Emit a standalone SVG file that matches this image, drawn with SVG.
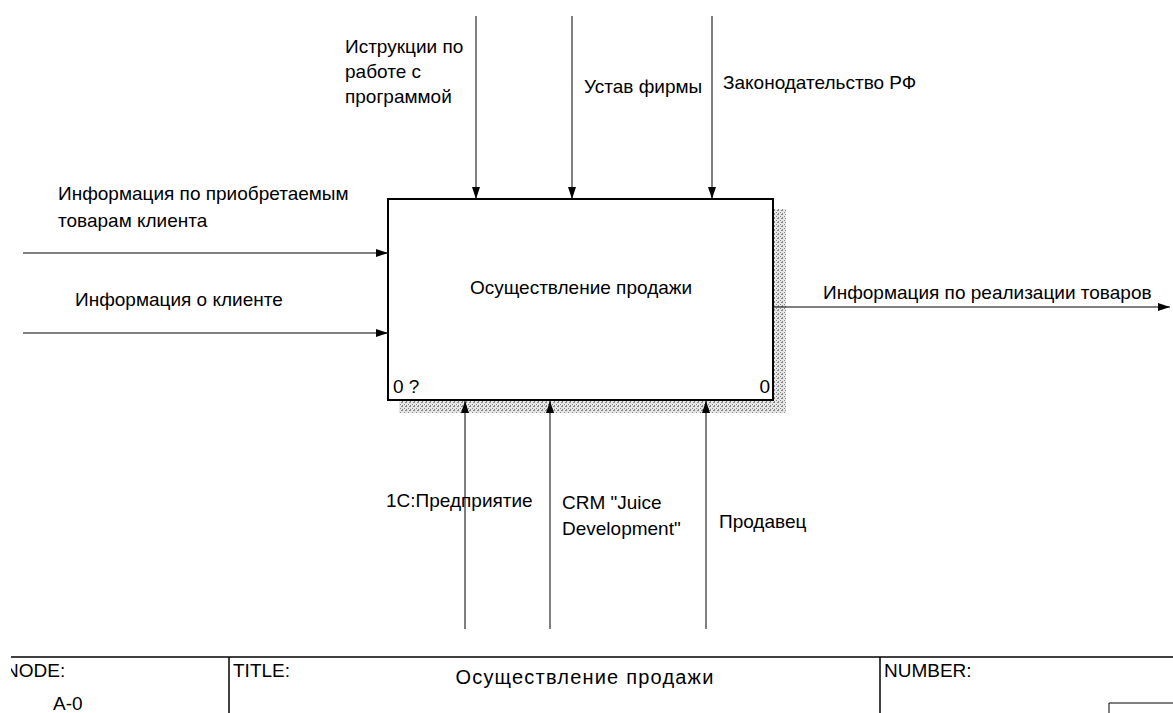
<svg xmlns="http://www.w3.org/2000/svg" width="1173" height="713" viewBox="0 0 1173 713">
  <style>
    text { font-family: "Liberation Sans", Arial, sans-serif; font-size: 19px; fill: #000; }
    .arrow { stroke: #000; stroke-width: 1; fill: none; marker-end: url(#head); }
    .frame { stroke: #000; stroke-width: 1.5; fill: none; }
  </style>
  <defs>
    <marker id="head" viewBox="0 0 12 8" refX="12" refY="4" markerWidth="12" markerHeight="8" markerUnits="userSpaceOnUse" orient="auto">
      <path d="M0,0 L12,4 L0,8 Z" fill="#000"/>
    </marker>
    <pattern id="hatch" width="4" height="4" patternUnits="userSpaceOnUse">
      <rect width="4" height="4" fill="#e6e6e6"/>
      <path d="M0,0 L1,1 M2,2 L3,3 M3,1 L1,3" stroke="#8a8a8a" stroke-width="1"/>
    </pattern>
    <clipPath id="sheet"><rect x="11" y="0" width="1162" height="713"/></clipPath>
  </defs>

  <!-- activity box with shadow -->
  <g id="node-A0">
    <rect x="774" y="209" width="12" height="204" fill="url(#hatch)"/>
    <rect x="399" y="401" width="387" height="12" fill="url(#hatch)"/>
    <rect x="388" y="199" width="385" height="201" fill="#fff" stroke="#000" stroke-width="2"/>
    <text x="581" y="294" text-anchor="middle">Осуществление продажи</text>
    <text x="393" y="393">0 ?</text>
    <text x="770" y="393" text-anchor="end">0</text>
  </g>

  <!-- connectors -->
  <g id="connectors">
    <!-- controls -->
    <line class="arrow" x1="476" y1="16" x2="476" y2="199"/>
    <line class="arrow" x1="572" y1="16" x2="572" y2="199"/>
    <line class="arrow" x1="712" y1="16" x2="712" y2="199"/>
    <!-- inputs -->
    <line class="arrow" x1="23" y1="253" x2="388" y2="253"/>
    <line class="arrow" x1="23" y1="333" x2="388" y2="333"/>
    <!-- output -->
    <line class="arrow" x1="773" y1="307" x2="1170" y2="307"/>
    <!-- mechanisms -->
    <line class="arrow" x1="465" y1="629" x2="465" y2="401"/>
    <line class="arrow" x1="550" y1="629" x2="550" y2="401"/>
    <line class="arrow" x1="706" y1="629" x2="706" y2="401"/>
  </g>

  <!-- connector labels -->
  <g id="labels">
    <text x="345" y="53">Иструкции по</text>
    <text x="345" y="78">работе с</text>
    <text x="345" y="103">программой</text>
    <text x="584" y="93">Устав фирмы</text>
    <text x="723" y="89">Законодательство РФ</text>
    <text x="58" y="200">Информация по приобретаемым</text>
    <text x="58" y="227">товарам клиента</text>
    <text x="75" y="306">Информация о клиенте</text>
    <text x="823" y="299">Информация по реализации товаров</text>
    <text x="386" y="507">1С:Предприятие</text>
    <text x="562" y="509">CRM "Juice</text>
    <text x="562" y="535">Development"</text>
    <text x="719" y="528">Продавец</text>
  </g>

  <!-- title block -->
  <g id="frame" clip-path="url(#sheet)">
    <line class="frame" x1="11" y1="657" x2="1173" y2="657"/>
    <line class="frame" x1="229" y1="657" x2="229" y2="713"/>
    <line class="frame" x1="880" y1="657" x2="880" y2="713"/>
    <path d="M1109,713 V703 H1173" stroke="#000" stroke-width="1" fill="none"/>
    <text x="5" y="677">NODE:</text>
    <text x="53" y="710">A-0</text>
    <text x="233" y="677">TITLE:</text>
    <text x="585" y="684" text-anchor="middle" style="font-size:20px; letter-spacing:1.2px">Осуществление продажи</text>
    <text x="884" y="677">NUMBER:</text>
  </g>
</svg>
